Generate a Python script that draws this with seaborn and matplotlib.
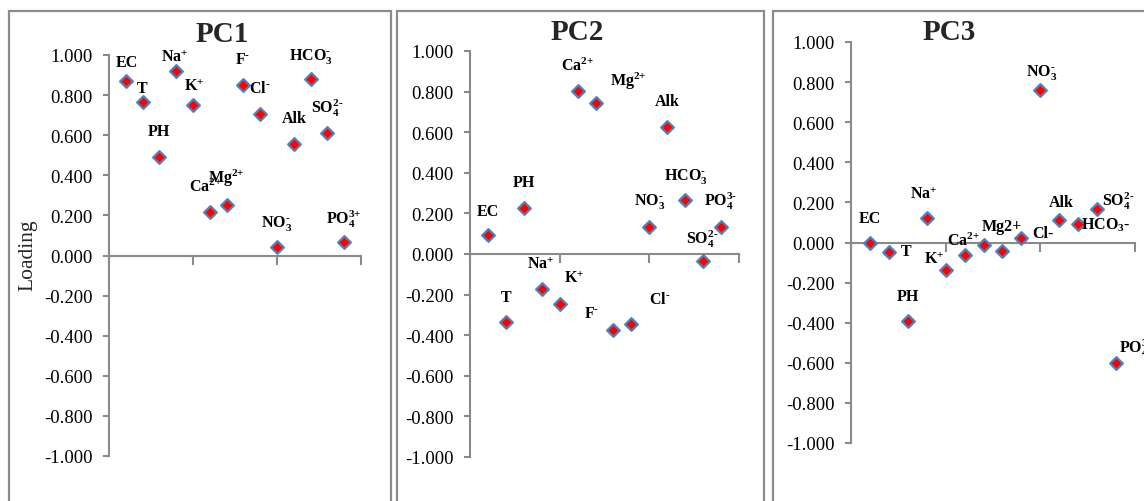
import matplotlib
matplotlib.use("Agg")
import matplotlib.pyplot as plt
from matplotlib.patches import Rectangle
from matplotlib.ticker import FormatStrFormatter, FixedLocator
import numpy as np
import pandas as pd
import seaborn as sns

# Principal component loadings of the water quality parameters
variables = ["EC", "T", "PH", "Na", "K", "Ca", "Mg", "F", "Cl", "NO3",
             "Alk", "HCO3", "SO4", "PO4"]
pc1 = [0.871, 0.765, 0.489, 0.918, 0.750, 0.219, 0.253, 0.851, 0.705,
       0.042, 0.556, 0.878, 0.610, 0.067]
pc2 = [0.093, -0.335, 0.228, -0.170, -0.246, 0.802, 0.743, -0.373,
       -0.347, 0.135, 0.625, 0.266, -0.036, 0.135]
pc3 = [0.000, -0.045, -0.394, 0.120, -0.137, -0.062, -0.013, -0.042,
       0.020, 0.760, 0.113, 0.091, 0.166, -0.600]

# plain-text signs keep the charges tight (no operator spacing)
M = r"\text{-}"
P = r"\text{+}"
labels_pc1 = ["EC", "T", "PH", "Na$^{%s}$" % P, "K$^{%s}$" % P,
              "Ca$^{2%s}$" % P, "Mg$^{2%s}$" % P,
              "F$^{%s}$" % M, "Cl$^{%s}$" % M, "NO$_{3}^{%s}$" % M, "Alk",
              "HCO$_{3}^{%s}$" % M, "SO$_{4}^{2%s}$" % M, "PO$_{4}^{3%s}$" % P]
labels_pc2 = ["EC", "T", "PH", "Na$^{%s}$" % P, "K$^{%s}$" % P,
              "Ca$^{2%s}$" % P, "Mg$^{2%s}$" % P,
              "F$^{%s}$" % M, "Cl$^{%s}$" % M, "NO$_{3}^{%s}$" % M, "Alk",
              "HCO$_{3}^{%s}$" % M, "SO$_{4}^{2%s}$" % M, "PO$_{4}^{3%s}$" % M]
labels_pc3 = ["EC", "T", "PH", "Na$^{%s}$" % P, "K$^{%s}$" % P,
              "Ca$^{2%s}$" % P, "Mg2+",
              "", "Cl-", "NO$_{3}^{%s}$" % M, "Alk", "HCO$_{3}$-",
              "SO$_{4}^{2%s}$" % M, "PO$_{4}^{3%s}$" % M]

y_ticks = [-1.0, -0.8, -0.6, -0.4, -0.2, 0.0, 0.2, 0.4, 0.6, 0.8, 1.0]

# label offsets in pixels (dx, dy) relative to each marker
offsets_pc1 = [(1, 19), (0, 14), (0, 26), (-2, 15), (1, 19), (-4, 25), (0, 27),
               (-1, 26), (0, 26), (0, 25), (0, 26), (0, 24), (0, 26), (0, 24)]
offsets_pc2 = [(0, 24), (0, 25), (0, 26), (-1, 25), (14, 26), (0, 26), (33, 23),
               (-22, 17), (28, 25), (0, 26), (0, 26), (1, 25), (-1, 23), (0, 26)]
offsets_pc3 = [(0, 24), (17, 1), (0, 25), (-3, 25), (-12, 11), (-1, 15), (18, 19),
               (0, 0), (22, 5), (1, 19), (2, 18), (27, 0), (21, 9), (20, 15)]

sns.set_theme(style="white")
plt.rcParams["font.family"] = ["Liberation Serif", "DejaVu Serif"]
plt.rcParams["mathtext.fontset"] = "custom"
plt.rcParams["mathtext.rm"] = "Liberation Serif:bold"
plt.rcParams["mathtext.it"] = "Liberation Serif:italic:bold"
plt.rcParams["mathtext.bf"] = "Liberation Serif:bold"
plt.rcParams["axes.unicode_minus"] = False

W, H = 1144, 502
fig = plt.figure(figsize=(W / 100, H / 100), dpi=100)
fig.patch.set_facecolor("white")

AXIS_GREY = "#8a8a8a"
FRAME_GREY = "#8c8c8c"


def px_axes(left, top, right, bottom):
    return fig.add_axes([left / W, 1 - bottom / H, (right - left) / W, (bottom - top) / H])


def frame(left, top, right, bottom):
    fig.patches.append(Rectangle((left / W, 1 - bottom / H), (right - left) / W,
                                 (bottom - top) / H, transform=fig.transFigure,
                                 fill=False, edgecolor=FRAME_GREY, linewidth=1.6,
                                 zorder=0))


frame(9, 12, 391, 560)
frame(397, 12, 764, 560)
frame(773, 12, 1190, 560)

panels = [
    ("PC1", pc1, labels_pc1, offsets_pc1, (109, 56, 361, 457), (222, 35)),
    ("PC2", pc2, labels_pc2, offsets_pc2, (470, 52, 739, 458), (577, 33)),
    ("PC3", pc3, labels_pc3, offsets_pc3, (851, 43, 1135, 444), (949, 33)),
]

positions = np.arange(1, len(variables) + 1)

for title, values, labels, offsets, box, title_xy in panels:
    ax = px_axes(*box)
    ax.set_facecolor("none")
    df = pd.DataFrame({"position": positions, "loading": values, "variable": variables})
    sns.scatterplot(data=df, x="position", y="loading", ax=ax, marker="D", s=42,
                    color="#ff0000", edgecolor="#4f81bd", linewidth=1.6,
                    legend=False, zorder=3, clip_on=False)
    ax.set_xlim(0, 15)
    ax.set_ylim(-1, 1)
    for side in ("top", "right"):
        ax.spines[side].set_visible(False)
    ax.spines["bottom"].set_position(("data", 0))
    for side in ("left", "bottom"):
        ax.spines[side].set_color(AXIS_GREY)
        ax.spines[side].set_linewidth(1.5)
    ax.yaxis.set_major_locator(FixedLocator(y_ticks))
    ax.yaxis.set_major_formatter(FormatStrFormatter("%.3f"))
    ax.xaxis.set_major_locator(FixedLocator([0, 5, 10, 15]))
    ax.tick_params(axis="y", direction="out", length=4, width=1.5, color=AXIS_GREY,
                   pad=8, labelsize=13.5, labelcolor="black", left=True)
    ax.tick_params(axis="x", direction="out", length=6.5, width=1.5, color=AXIS_GREY,
                   labelbottom=False, bottom=True)
    ax.set_xlabel("")
    ax.set_ylabel("")
    for x, y, lab, (dx, dy) in zip(positions, values, labels, offsets):
        if not lab:
            continue
        ax.annotate(lab, (x, y), xytext=(dx, dy), textcoords="offset pixels",
                    ha="center", va="center", fontsize=11.5, fontweight="bold",
                    color="black", annotation_clip=False)
    fig.text(title_xy[0] / W, 1 - title_xy[1] / H, title, ha="center", va="center",
             fontsize=21, fontweight="bold")

fig.text(28 / W, 1 - 255 / H, "Loading", rotation=90, ha="center", va="center",
         fontsize=15.5)

fig.savefig("out.png", dpi=100, facecolor="white")
